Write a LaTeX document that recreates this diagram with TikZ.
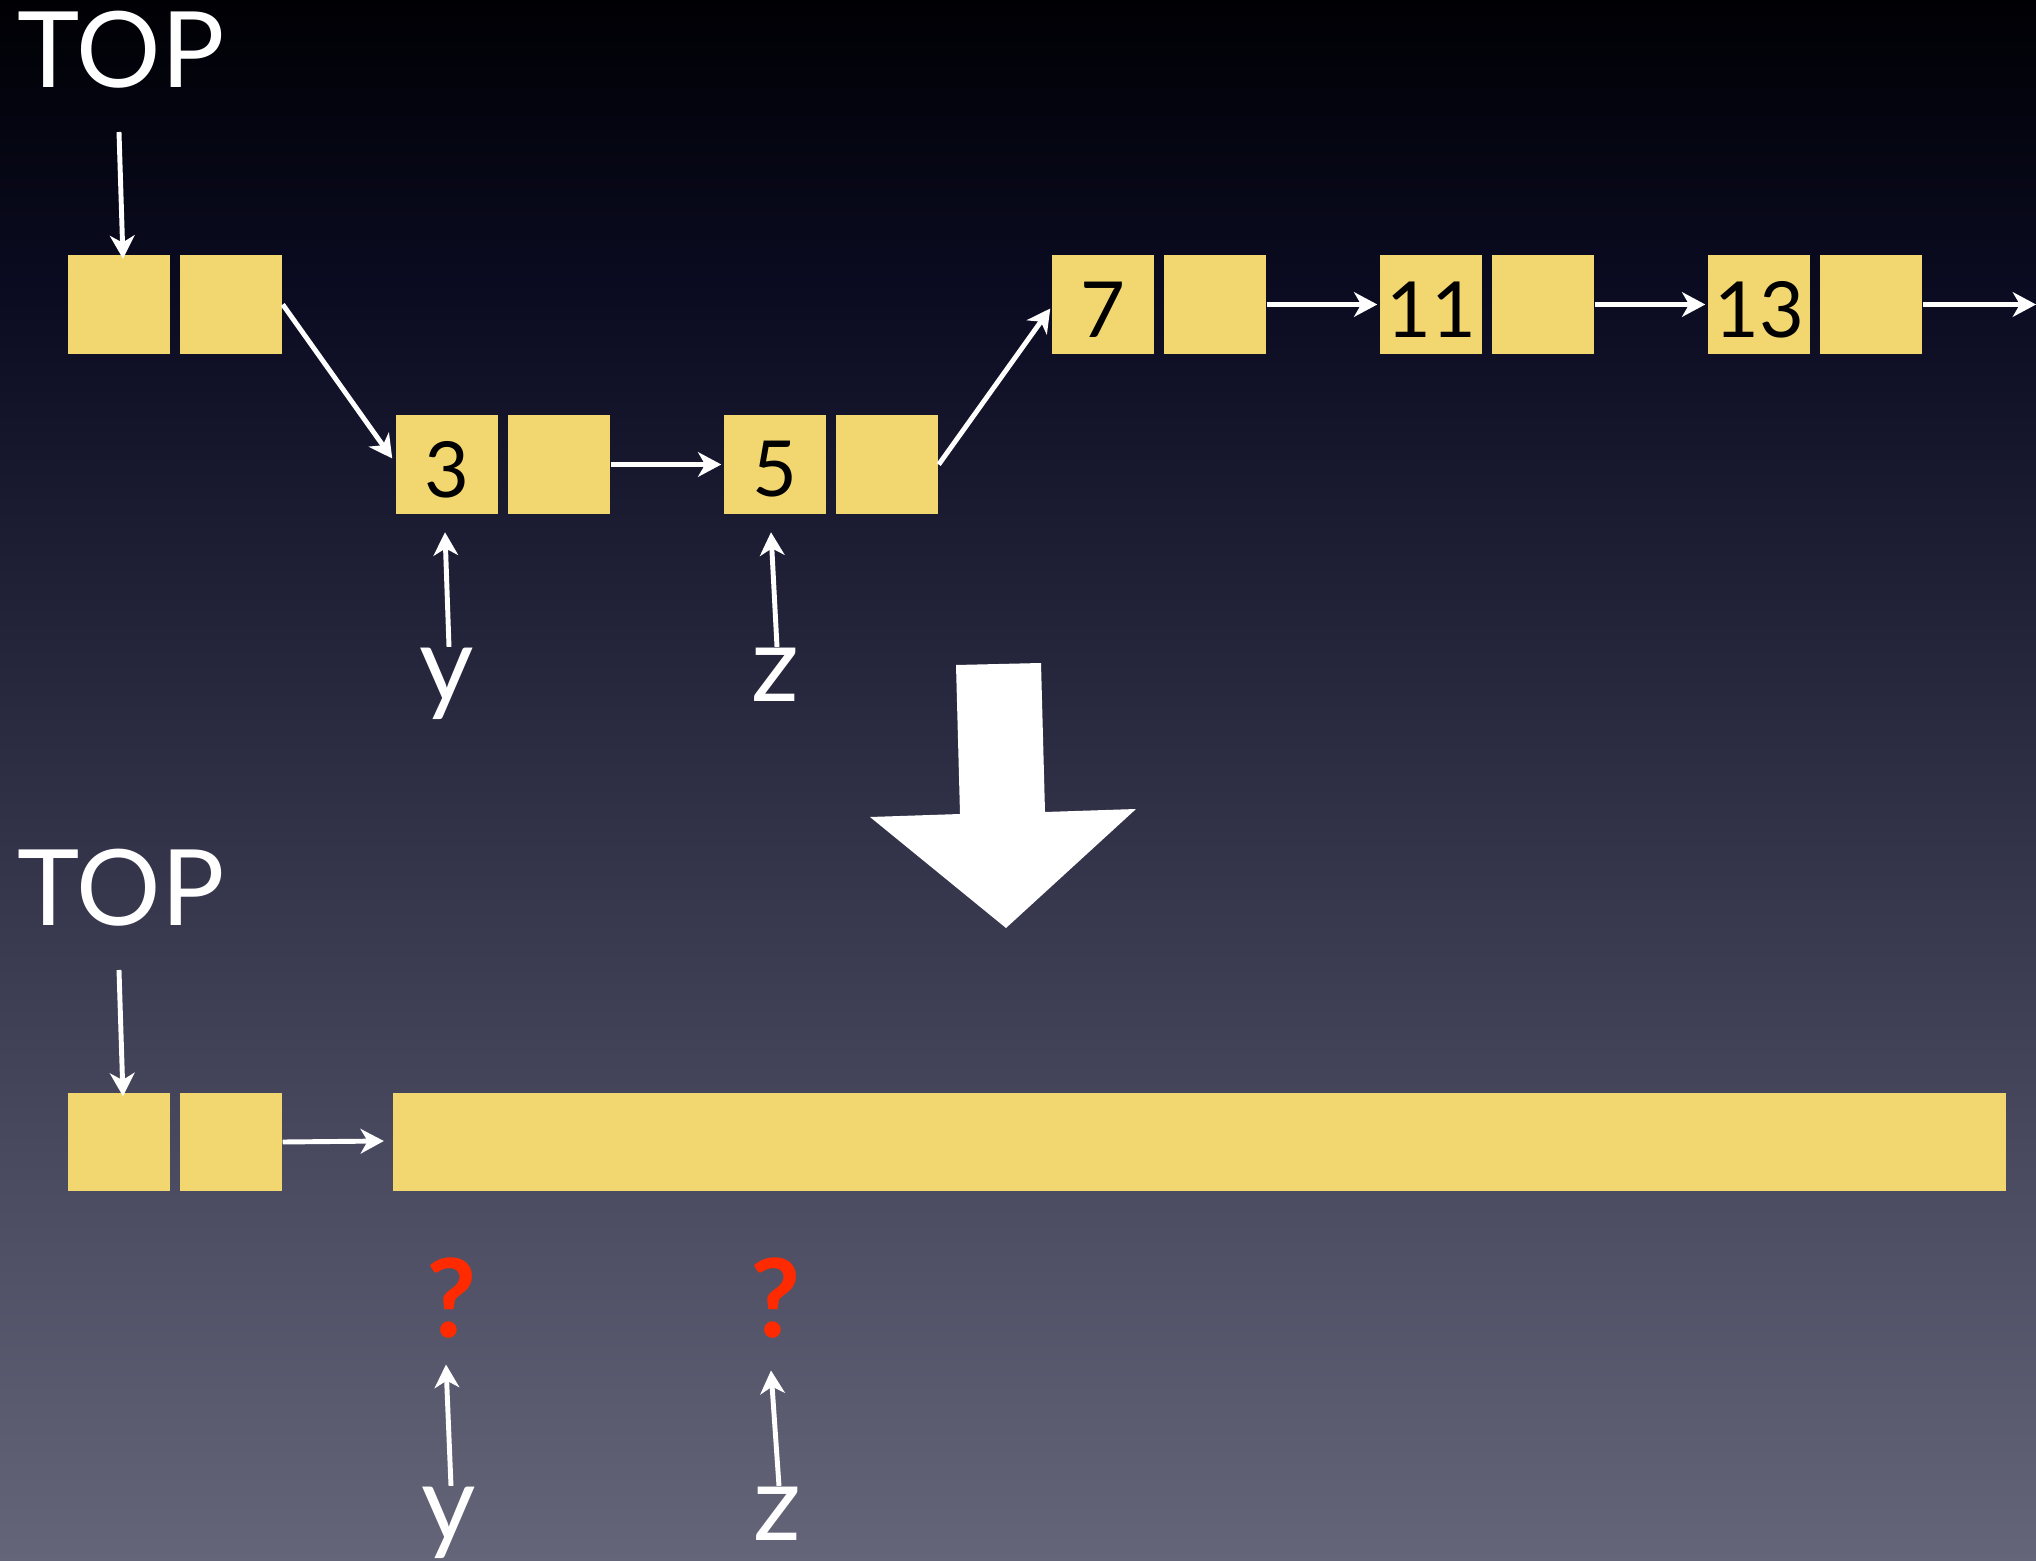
\documentclass[tikz,border=0pt]{standalone}
\usepackage{fontspec}
\setmainfont{Lato}
\usetikzlibrary{arrows.meta,calc}

\definecolor{bgA}{HTML}{000004}
\definecolor{bgB}{HTML}{0B0C22}
\definecolor{bgC}{HTML}{28293F}
\definecolor{bgD}{HTML}{45465C}
\definecolor{bgE}{HTML}{646578}
\definecolor{cell}{HTML}{F2D670}
\definecolor{qred}{HTML}{FF2A00}

\tikzset{
  cellbox/.style={fill=cell, draw=none, inner sep=0pt, minimum width=1.02cm, minimum height=0.98cm},
  link/.style={draw=white, line width=1.4pt, -{Stealth[length=6.6pt, width=7pt, inset=2pt]}},
  label/.style={text=white, font=\fontsize{30}{30}\selectfont, inner sep=0pt},
  digit/.style={text=black, font=\fontsize{22}{22}\selectfont, inner sep=0pt},
  query/.style={text=qred, font=\bfseries\fontsize{31}{31}\selectfont, inner sep=0pt},
}

\begin{document}
\begin{tikzpicture}[x=0.01cm, y=-0.01cm]
\useasboundingbox (0,0) rectangle (2036,1561);

% background: dark navy fading to slate grey
\shade[top color=bgA, bottom color=bgB] (0,0) rectangle (2036,302);
\shade[top color=bgB, bottom color=bgC] (0,300) rectangle (2036,702);
\shade[top color=bgC, bottom color=bgD] (0,700) rectangle (2036,1102);
\shade[top color=bgD, bottom color=bgE] (0,1100) rectangle (2036,1561);

% ---------- upper list ----------
\node[label, anchor=base west] (top1) at (17,88) {TOP};

\node[cellbox] (A1) at (119,304.5) {};
\node[cellbox] (A2) at (231,304.5) {};
\node[cellbox] (B1) at (447,464.5) {};
\node[cellbox] (B2) at (559,464.5) {};
\node[cellbox] (C1) at (775,464.5) {};
\node[cellbox] (C2) at (887,464.5) {};
\node[cellbox] (D1) at (1103,304.5) {};
\node[cellbox] (D2) at (1215,304.5) {};
\node[cellbox] (E1) at (1431,304.5) {};
\node[cellbox] (E2) at (1543,304.5) {};
\node[cellbox] (F1) at (1759,304.5) {};
\node[cellbox] (F2) at (1871,304.5) {};

% keys
\foreach \n/\v in {B1/3, C1/5, D1/7, E1/11, F1/13}{
  \node[digit] (k\n) at ($(\n)+(0,5)$) {\v};
}

\coordinate (t1) at (119,132);
\draw[link] (t1) -- ($(A1.north)+(4,4)$);
\draw[link] (A2.east) -- ($(B1.west)+(-3,-6)$);
\draw[link] (B2.east) -- ($(C1.west)+(-2,0)$);
\draw[link] (C2.east) -- ($(D1.west)+(-1,4)$);
\draw[link] (D2.east) -- ($(E1.west)+(-2,0)$);
\draw[link] (E2.east) -- ($(F1.west)+(-2,0)$);
\coordinate (tail) at (2036,304.5);
\draw[link] (F2.east) -- (tail);

\node[label, anchor=base] (y1) at (447,701) {y};
\node[label, anchor=base] (z1) at (775,701) {z};
\draw[link] ($(y1.north)+(2,0)$) -- ($(B1.south)+(-2,18)$);
\draw[link] ($(z1.north)+(2,0)$) -- ($(C1.south)+(-4,18)$);

% ---------- transition arrow ----------
\fill[white] (956,665) -- (1041,663) -- (1045,812) -- (1136,809) -- (1006,928)
  -- (870,817) -- (960,814) -- cycle;

% ---------- lower list ----------
\node[label, anchor=base west] (top2) at (17,925) {TOP};

\node[cellbox] (G1) at (119,1142) {};
\node[cellbox] (G2) at (231,1142) {};
\node[cellbox, minimum width=16.13cm] (bar) at (1199.5,1142) {};

\coordinate (t2) at (119,970);
\draw[link] (t2) -- ($(G1.north)+(4,4)$);
\draw[link] (G2.east) -- ($(bar.west)+(-8,-1)$);

\node[query, anchor=base] (q1) at (452,1337) {?};
\node[query, anchor=base] (q2) at (776,1337) {?};

\node[label, anchor=base] (y2) at (449,1540) {y};
\node[label, anchor=base] (z2) at (777,1540) {z};
\draw[link] ($(y2.north)+(2,0)$) -- ($(q1.south)+(-6,26)$);
\draw[link] ($(z2.north)+(2,0)$) -- ($(q2.south)+(-5,32)$);
\end{tikzpicture}
\end{document}
